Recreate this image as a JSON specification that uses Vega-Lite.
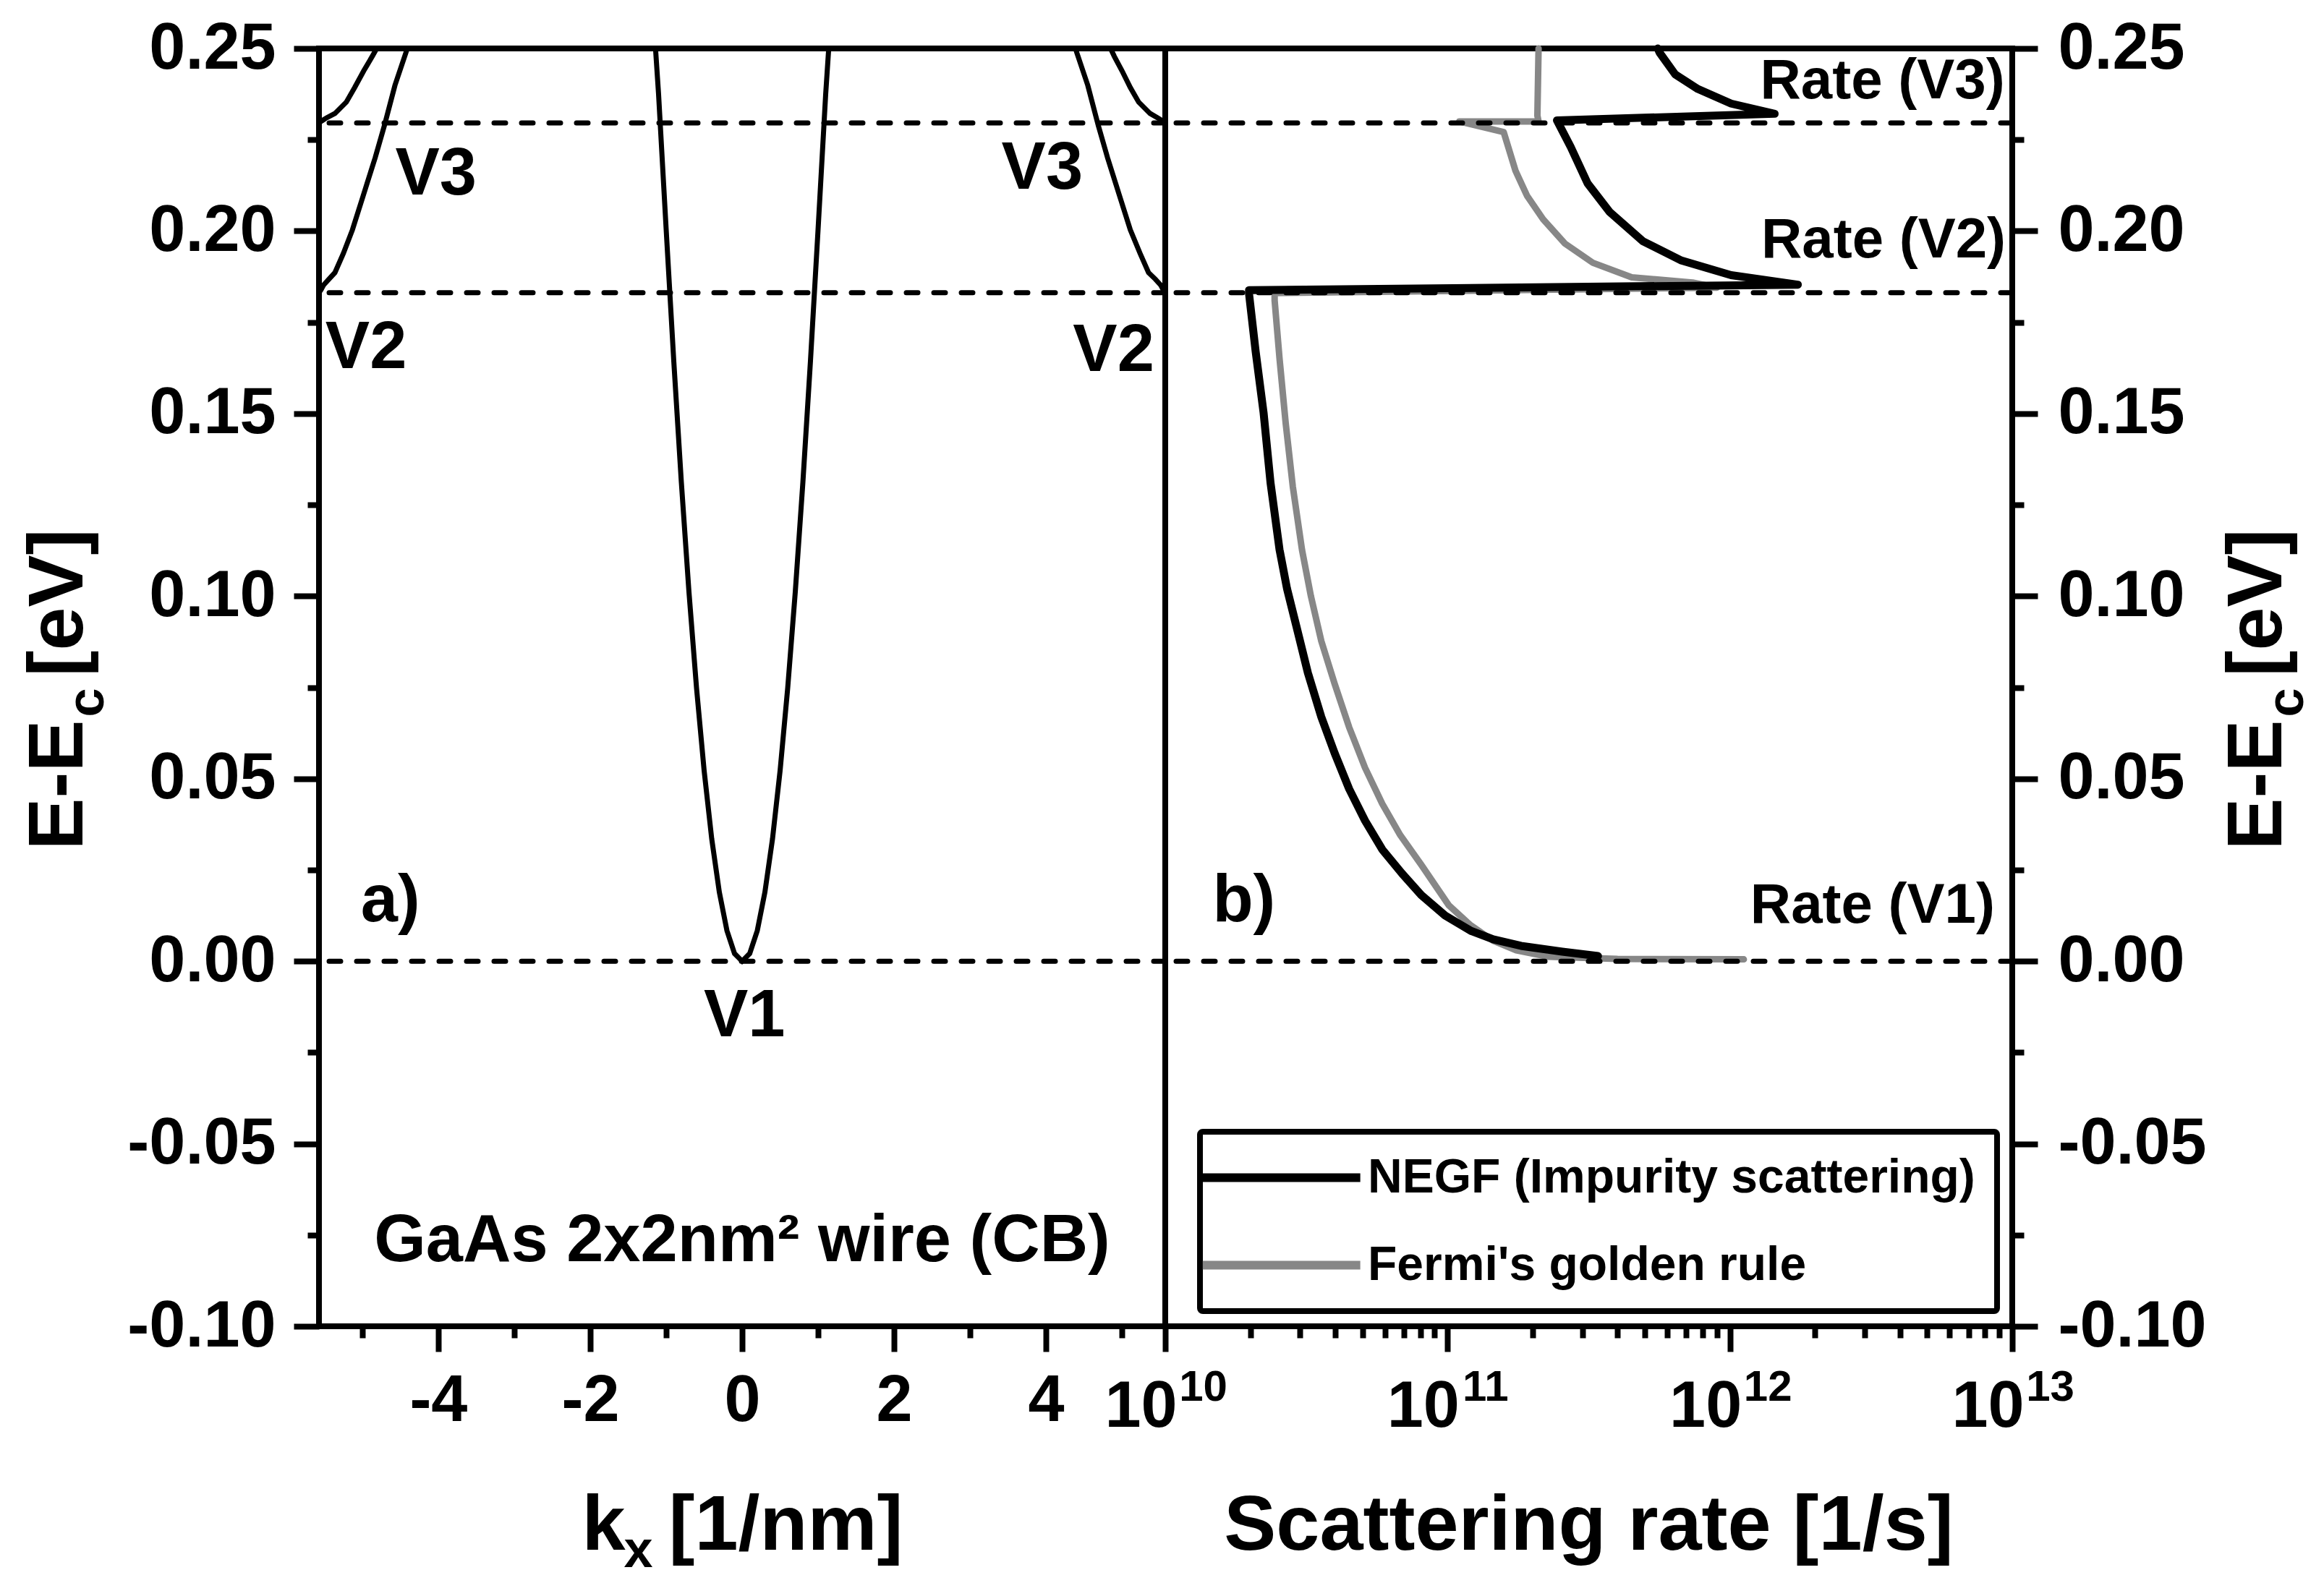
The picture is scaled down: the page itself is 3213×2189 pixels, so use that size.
{
  "$schema": "https://vega.github.io/schema/vega-lite/v6.json",
  "background": "white",
  "padding": {"left": 23, "top": 18, "right": 5, "bottom": 0},
  "spacing": 0,
  "bounds": "flush",
  "config": {
    "view": {"stroke": "black", "strokeWidth": 8},
    "font": "Liberation Sans",
    "axis": {
      "grid": false, "domain": false,
      "labelFont": "Liberation Sans", "labelFontWeight": "bold", "labelFontSize": 90, "labelColor": "black",
      "labelLimit": 500,
      "titleFont": "Liberation Sans", "titleFontWeight": "bold", "titleFontSize": 108, "titleColor": "black",
      "tickColor": "black", "tickWidth": 8, "tickSize": 35,
      "labelFlush": false, "labelOverlap": false, "labelBound": false
    },
    "text": {"font": "Liberation Sans", "fontWeight": "bold", "color": "black"},
    "legend": {"strokeWidth": 8}
  },
  "datasets": {
    "bands": [
      {"band": "V1", "k": -1.14, "E": 0.25}, {"band": "V1", "k": -1.1, "E": 0.2375}, {"band": "V1", "k": -1.0, "E": 0.2005},
      {"band": "V1", "k": -0.9, "E": 0.1645}, {"band": "V1", "k": -0.8, "E": 0.1312}, {"band": "V1", "k": -0.7, "E": 0.1012},
      {"band": "V1", "k": -0.6, "E": 0.0748}, {"band": "V1", "k": -0.5, "E": 0.0522}, {"band": "V1", "k": -0.4, "E": 0.0335},
      {"band": "V1", "k": -0.3, "E": 0.0189}, {"band": "V1", "k": -0.2, "E": 0.0084}, {"band": "V1", "k": -0.1, "E": 0.0021},
      {"band": "V1", "k": 0, "E": 0},
      {"band": "V1", "k": 0.1, "E": 0.0021}, {"band": "V1", "k": 0.2, "E": 0.0084}, {"band": "V1", "k": 0.3, "E": 0.0189},
      {"band": "V1", "k": 0.4, "E": 0.0335}, {"band": "V1", "k": 0.5, "E": 0.0522}, {"band": "V1", "k": 0.6, "E": 0.0748},
      {"band": "V1", "k": 0.7, "E": 0.1012}, {"band": "V1", "k": 0.8, "E": 0.1312}, {"band": "V1", "k": 0.9, "E": 0.1645},
      {"band": "V1", "k": 1.0, "E": 0.2005}, {"band": "V1", "k": 1.1, "E": 0.2375}, {"band": "V1", "k": 1.14, "E": 0.25},
      {"band": "V2L", "k": -5.57, "E": 0.1831}, {"band": "V2L", "k": -5.54, "E": 0.184}, {"band": "V2L", "k": -5.51, "E": 0.1852},
      {"band": "V2L", "k": -5.44, "E": 0.1868}, {"band": "V2L", "k": -5.36, "E": 0.1886}, {"band": "V2L", "k": -5.25, "E": 0.1938},
      {"band": "V2L", "k": -5.13, "E": 0.2003}, {"band": "V2L", "k": -4.98, "E": 0.2102}, {"band": "V2L", "k": -4.83, "E": 0.2201},
      {"band": "V2L", "k": -4.71, "E": 0.2288}, {"band": "V2L", "k": -4.57, "E": 0.2399}, {"band": "V2L", "k": -4.42, "E": 0.2492},
      {"band": "V2L", "k": -4.41, "E": 0.25},
      {"band": "V2R", "k": 4.39, "E": 0.25}, {"band": "V2R", "k": 4.4, "E": 0.2492}, {"band": "V2R", "k": 4.55, "E": 0.2399},
      {"band": "V2R", "k": 4.69, "E": 0.2288}, {"band": "V2R", "k": 4.81, "E": 0.2201}, {"band": "V2R", "k": 4.96, "E": 0.2102},
      {"band": "V2R", "k": 5.11, "E": 0.2003}, {"band": "V2R", "k": 5.24, "E": 0.1938}, {"band": "V2R", "k": 5.35, "E": 0.1886},
      {"band": "V2R", "k": 5.44, "E": 0.1868}, {"band": "V2R", "k": 5.51, "E": 0.1852}, {"band": "V2R", "k": 5.54, "E": 0.184},
      {"band": "V2R", "k": 5.57, "E": 0.1831},
      {"band": "V3L", "k": -5.57, "E": 0.2296}, {"band": "V3L", "k": -5.53, "E": 0.2302}, {"band": "V3L", "k": -5.47, "E": 0.231},
      {"band": "V3L", "k": -5.36, "E": 0.2322}, {"band": "V3L", "k": -5.21, "E": 0.2353}, {"band": "V3L", "k": -5.1, "E": 0.2393},
      {"band": "V3L", "k": -4.98, "E": 0.2439}, {"band": "V3L", "k": -4.87, "E": 0.2478}, {"band": "V3L", "k": -4.81, "E": 0.25},
      {"band": "V3R", "k": 4.85, "E": 0.25}, {"band": "V3R", "k": 4.9, "E": 0.2478}, {"band": "V3R", "k": 5.0, "E": 0.2439},
      {"band": "V3R", "k": 5.11, "E": 0.2393}, {"band": "V3R", "k": 5.22, "E": 0.2353}, {"band": "V3R", "k": 5.37, "E": 0.2322},
      {"band": "V3R", "k": 5.47, "E": 0.231}, {"band": "V3R", "k": 5.53, "E": 0.2302}, {"band": "V3R", "k": 5.57, "E": 0.2296}
    ],
    "levels": [{"E": 0}, {"E": 0.1831}, {"E": 0.2296}],
    "labelsA": [
      {"label": "V3", "k": -4.03, "E": 0.2155},
      {"label": "V3", "k": 3.95, "E": 0.2171},
      {"label": "V2", "k": -4.95, "E": 0.168},
      {"label": "V2", "k": 4.89, "E": 0.1672},
      {"label": "V1", "k": 0.03, "E": -0.015},
      {"label": "a)", "k": -4.63, "E": 0.0165},
      {"label": "GaAs 2x2nm² wire (CB)", "k": 0.0, "E": -0.0766}
    ],
    "rates": [
      {"method": "Fermi's golden rule", "i": 1, "rate": 1.12e12, "E": 0.0005},
      {"method": "Fermi's golden rule", "i": 2, "rate": 4.0e11, "E": 0.0006},
      {"method": "Fermi's golden rule", "i": 3, "rate": 2.28e11, "E": 0.0012},
      {"method": "Fermi's golden rule", "i": 4, "rate": 1.75e11, "E": 0.003},
      {"method": "Fermi's golden rule", "i": 5, "rate": 1.45e11, "E": 0.0056},
      {"method": "Fermi's golden rule", "i": 6, "rate": 1.2e11, "E": 0.01},
      {"method": "Fermi's golden rule", "i": 7, "rate": 1.01e11, "E": 0.0153},
      {"method": "Fermi's golden rule", "i": 8, "rate": 8.07e10, "E": 0.0264},
      {"method": "Fermi's golden rule", "i": 9, "rate": 6.8e10, "E": 0.0345},
      {"method": "Fermi's golden rule", "i": 10, "rate": 5.87e10, "E": 0.0431},
      {"method": "Fermi's golden rule", "i": 11, "rate": 5.1e10, "E": 0.053},
      {"method": "Fermi's golden rule", "i": 12, "rate": 4.48e10, "E": 0.0641},
      {"method": "Fermi's golden rule", "i": 13, "rate": 3.98e10, "E": 0.076},
      {"method": "Fermi's golden rule", "i": 14, "rate": 3.57e10, "E": 0.0877},
      {"method": "Fermi's golden rule", "i": 15, "rate": 3.28e10, "E": 0.1},
      {"method": "Fermi's golden rule", "i": 16, "rate": 3.05e10, "E": 0.1127},
      {"method": "Fermi's golden rule", "i": 17, "rate": 2.83e10, "E": 0.13},
      {"method": "Fermi's golden rule", "i": 18, "rate": 2.67e10, "E": 0.1474},
      {"method": "Fermi's golden rule", "i": 19, "rate": 2.54e10, "E": 0.165},
      {"method": "Fermi's golden rule", "i": 20, "rate": 2.44e10, "E": 0.181},
      {"method": "Fermi's golden rule", "i": 21, "rate": 2.44e10, "E": 0.183},
      {"method": "Fermi's golden rule", "i": 22, "rate": 9.0e11, "E": 0.1845},
      {"method": "Fermi's golden rule", "i": 23, "rate": 7.37e11, "E": 0.1859},
      {"method": "Fermi's golden rule", "i": 24, "rate": 4.49e11, "E": 0.1873},
      {"method": "Fermi's golden rule", "i": 25, "rate": 3.27e11, "E": 0.1913},
      {"method": "Fermi's golden rule", "i": 26, "rate": 2.6e11, "E": 0.1966},
      {"method": "Fermi's golden rule", "i": 27, "rate": 2.18e11, "E": 0.2032},
      {"method": "Fermi's golden rule", "i": 28, "rate": 1.91e11, "E": 0.2097},
      {"method": "Fermi's golden rule", "i": 29, "rate": 1.74e11, "E": 0.2165},
      {"method": "Fermi's golden rule", "i": 30, "rate": 1.58e11, "E": 0.2271},
      {"method": "Fermi's golden rule", "i": 31, "rate": 1.1e11, "E": 0.23},
      {"method": "Fermi's golden rule", "i": 32, "rate": 2.1e11, "E": 0.23},
      {"method": "Fermi's golden rule", "i": 33, "rate": 2.08e11, "E": 0.2316},
      {"method": "Fermi's golden rule", "i": 34, "rate": 2.1e11, "E": 0.25},
      {"method": "NEGF (Impurity scattering)", "i": 1, "rate": 3.41e11, "E": 0.0014},
      {"method": "NEGF (Impurity scattering)", "i": 2, "rate": 2.55e11, "E": 0.0026},
      {"method": "NEGF (Impurity scattering)", "i": 3, "rate": 1.82e11, "E": 0.0042},
      {"method": "NEGF (Impurity scattering)", "i": 4, "rate": 1.45e11, "E": 0.006},
      {"method": "NEGF (Impurity scattering)", "i": 5, "rate": 1.21e11, "E": 0.0083},
      {"method": "NEGF (Impurity scattering)", "i": 6, "rate": 9.8e10, "E": 0.0125},
      {"method": "NEGF (Impurity scattering)", "i": 7, "rate": 8.07e10, "E": 0.0181},
      {"method": "NEGF (Impurity scattering)", "i": 8, "rate": 6.9e10, "E": 0.024},
      {"method": "NEGF (Impurity scattering)", "i": 9, "rate": 5.87e10, "E": 0.0306},
      {"method": "NEGF (Impurity scattering)", "i": 10, "rate": 5.1e10, "E": 0.0385},
      {"method": "NEGF (Impurity scattering)", "i": 11, "rate": 4.48e10, "E": 0.0472},
      {"method": "NEGF (Impurity scattering)", "i": 12, "rate": 3.98e10, "E": 0.057},
      {"method": "NEGF (Impurity scattering)", "i": 13, "rate": 3.57e10, "E": 0.0669},
      {"method": "NEGF (Impurity scattering)", "i": 14, "rate": 3.2e10, "E": 0.079},
      {"method": "NEGF (Impurity scattering)", "i": 15, "rate": 2.91e10, "E": 0.0919},
      {"method": "NEGF (Impurity scattering)", "i": 16, "rate": 2.7e10, "E": 0.102},
      {"method": "NEGF (Impurity scattering)", "i": 17, "rate": 2.54e10, "E": 0.1127},
      {"method": "NEGF (Impurity scattering)", "i": 18, "rate": 2.36e10, "E": 0.131},
      {"method": "NEGF (Impurity scattering)", "i": 19, "rate": 2.23e10, "E": 0.1502},
      {"method": "NEGF (Impurity scattering)", "i": 20, "rate": 2.09e10, "E": 0.167},
      {"method": "NEGF (Impurity scattering)", "i": 21, "rate": 1.98e10, "E": 0.1829},
      {"method": "NEGF (Impurity scattering)", "i": 22, "rate": 1.98e10, "E": 0.1838},
      {"method": "NEGF (Impurity scattering)", "i": 23, "rate": 1.74e12, "E": 0.1853},
      {"method": "NEGF (Impurity scattering)", "i": 24, "rate": 1.01e12, "E": 0.1879},
      {"method": "NEGF (Impurity scattering)", "i": 25, "rate": 6.74e11, "E": 0.1919},
      {"method": "NEGF (Impurity scattering)", "i": 26, "rate": 4.92e11, "E": 0.1972},
      {"method": "NEGF (Impurity scattering)", "i": 27, "rate": 3.75e11, "E": 0.2052},
      {"method": "NEGF (Impurity scattering)", "i": 28, "rate": 3.13e11, "E": 0.2131},
      {"method": "NEGF (Impurity scattering)", "i": 29, "rate": 2.73e11, "E": 0.223},
      {"method": "NEGF (Impurity scattering)", "i": 30, "rate": 2.44e11, "E": 0.2303},
      {"method": "NEGF (Impurity scattering)", "i": 31, "rate": 1.44e12, "E": 0.2321},
      {"method": "NEGF (Impurity scattering)", "i": 32, "rate": 1.01e12, "E": 0.2349},
      {"method": "NEGF (Impurity scattering)", "i": 33, "rate": 7.7e11, "E": 0.2389},
      {"method": "NEGF (Impurity scattering)", "i": 34, "rate": 6.4e11, "E": 0.2429},
      {"method": "NEGF (Impurity scattering)", "i": 35, "rate": 5.64e11, "E": 0.2488},
      {"method": "NEGF (Impurity scattering)", "i": 36, "rate": 5.55e11, "E": 0.25}
    ],
    "labelsB": [
      {"label": "Rate (V3)", "rate": 3.47e12, "E": 0.2409},
      {"label": "Rate (V2)", "rate": 3.5e12, "E": 0.1973},
      {"label": "Rate (V1)", "rate": 3.2e12, "E": 0.0151}
    ],
    "labelsB2": [
      {"label": "b)", "rate": 1.9e10, "E": 0.0165}
    ]
  },
  "hconcat": [
    {
      "width": 1170,
      "height": 1767,
      "layer": [
        {
          "data": {"name": "bands"},
          "mark": {"type": "line", "color": "black", "strokeWidth": 7},
          "encoding": {
            "x": {"field": "k", "type": "quantitative",
              "scale": {"domain": [-5.57, 5.57], "nice": false, "zero": false},
              "axis": {"orient": "bottom", "values": [-4, -2, 0, 2, 4], "labelExpr": "replace(datum.label, '−', '-')",
                "labelPadding": 24, "title": "k\u00a0\u00a0[1/nm]", "titleX": 585, "titleY": 308,
                "titleBaseline": "alphabetic", "titleAlign": "center"}},
            "y": {"field": "E", "type": "quantitative",
              "scale": {"domain": [-0.1, 0.25], "nice": false, "zero": false},
              "axis": {"orient": "left", "values": [-0.1, -0.05, 0, 0.05, 0.1, 0.15, 0.2, 0.25],
                "labelExpr": "replace(format(datum.value, '.2f'), '−', '-')", "labelPadding": 25,
                "title": "E-E\u00a0\u00a0[eV]", "titleX": -328, "titleY": 886, "titleAngle": -90,
                "titleBaseline": "alphabetic", "titleAlign": "center"}},
            "detail": {"field": "band", "type": "nominal"}
          }
        },
        {
          "data": {"name": "levels"},
          "mark": {"type": "rule", "strokeDash": [16, 22], "strokeWidth": 7, "strokeCap": "round", "color": "black"},
          "encoding": {
            "y": {"field": "E", "type": "quantitative",
              "axis": {"orient": "left", "values": [-0.075, -0.025, 0.025, 0.075, 0.125, 0.175, 0.225],
                "labels": false, "tickSize": 16, "title": "c", "titleFontSize": 72,
                "titleX": -299, "titleY": 904, "titleAngle": -90, "titleBaseline": "alphabetic", "titleAlign": "center"}}
          }
        },
        {
          "data": {"name": "labelsA"},
          "mark": {"type": "text", "fontSize": 92, "align": "center", "baseline": "middle"},
          "encoding": {
            "x": {"field": "k", "type": "quantitative",
              "axis": {"orient": "bottom", "values": [-5, -3, -1, 1, 3, 5], "labels": false, "tickSize": 16,
                "title": "x", "titleFontSize": 72, "titleX": 441, "titleY": 332,
                "titleBaseline": "alphabetic", "titleAlign": "center"}},
            "y": {"field": "E", "type": "quantitative", "axis": null},
            "text": {"field": "label", "type": "nominal"}
          }
        }
      ],
      "resolve": {"axis": {"x": "independent", "y": "independent"}}
    },
    {
      "width": 1171,
      "height": 1767,
      "layer": [
        {
          "data": {"name": "rates"},
          "mark": {"type": "line", "strokeJoin": "round", "strokeCap": "round"},
          "encoding": {
            "x": {"field": "rate", "type": "quantitative",
              "scale": {"type": "log", "domain": [1e10, 1e13], "nice": false},
              "axis": {"orient": "bottom", "values": [1e10, 1e11, 1e12, 1e13], "labelExpr": "'10'",
                "labelOffset": -34, "labelPadding": 32, "title": "Scattering rate [1/s]",
                "titleX": 585, "titleY": 308, "titleBaseline": "alphabetic", "titleAlign": "center"}},
            "y": {"field": "E", "type": "quantitative",
              "scale": {"domain": [-0.1, 0.25], "nice": false, "zero": false},
              "axis": {"orient": "right", "values": [-0.1, -0.05, 0, 0.05, 0.1, 0.15, 0.2, 0.25],
                "labelExpr": "replace(format(datum.value, '.2f'), '−', '-')", "labelPadding": 28,
                "title": "E-E\u00a0\u00a0[eV]", "titleX": 371, "titleY": 886, "titleAngle": -90,
                "titleBaseline": "alphabetic", "titleAlign": "center"}},
            "color": {"field": "method", "type": "nominal",
              "scale": {"domain": ["NEGF (Impurity scattering)", "Fermi's golden rule"], "range": ["#000000", "#878787"]},
              "legend": {"orient": "none", "legendX": 48, "legendY": 1498, "title": null,
                "symbolType": "M-2.2,0H5.83", "symbolSize": 2943, "symbolStrokeWidth": 12,
                "labelFontSize": 66, "labelFont": "Liberation Sans", "labelFontWeight": "bold", "labelColor": "black",
                "labelOffset": 135, "rowPadding": 54, "padding": 30, "strokeColor": "black", "cornerRadius": 4,
                "labelLimit": 2000}},
            "strokeWidth": {"field": "method", "type": "nominal",
              "scale": {"domain": ["NEGF (Impurity scattering)", "Fermi's golden rule"], "range": [11, 9]},
              "legend": null},
            "order": {"field": "i", "type": "quantitative"}
          }
        },
        {
          "data": {"name": "levels"},
          "mark": {"type": "rule", "strokeDash": [16, 22], "strokeWidth": 7, "strokeCap": "round", "color": "black"},
          "encoding": {
            "y": {"field": "E", "type": "quantitative",
              "axis": {"orient": "right", "values": [-0.075, -0.025, 0.025, 0.075, 0.125, 0.175, 0.225],
                "labels": false, "tickSize": 16, "title": "c", "titleFontSize": 72,
                "titleX": 401, "titleY": 904, "titleAngle": -90, "titleBaseline": "alphabetic", "titleAlign": "center"}}
          }
        },
        {
          "data": {"name": "labelsB"},
          "mark": {"type": "text", "fontSize": 78, "align": "center", "baseline": "middle"},
          "encoding": {
            "x": {"field": "rate", "type": "quantitative",
              "axis": {"orient": "bottom",
                "values": [2e10, 3e10, 4e10, 5e10, 6e10, 7e10, 8e10, 9e10, 2e11, 3e11, 4e11, 5e11, 6e11, 7e11, 8e11, 9e11, 2e12, 3e12, 4e12, 5e12, 6e12, 7e12, 8e12, 9e12],
                "labels": false, "tickSize": 16, "title": null}},
            "y": {"field": "E", "type": "quantitative", "axis": null},
            "text": {"field": "label", "type": "nominal"}
          }
        },
        {
          "data": {"name": "labelsB2"},
          "mark": {"type": "text", "fontSize": 92, "align": "center", "baseline": "middle"},
          "encoding": {
            "x": {"field": "rate", "type": "quantitative",
              "axis": {"orient": "bottom", "values": [1e10, 1e11, 1e12, 1e13],
                "labelExpr": "'' + round(log(datum.value) / LN10)", "labelFontSize": 60,
                "labelOffset": 52, "labelPadding": 20, "tickSize": 35, "tickOpacity": 0, "title": null}},
            "y": {"field": "E", "type": "quantitative", "axis": null},
            "text": {"field": "label", "type": "nominal"}
          }
        }
      ],
      "resolve": {"axis": {"x": "independent", "y": "independent"}}
    }
  ],
  "resolve": {"legend": {"color": "independent"}}
}
